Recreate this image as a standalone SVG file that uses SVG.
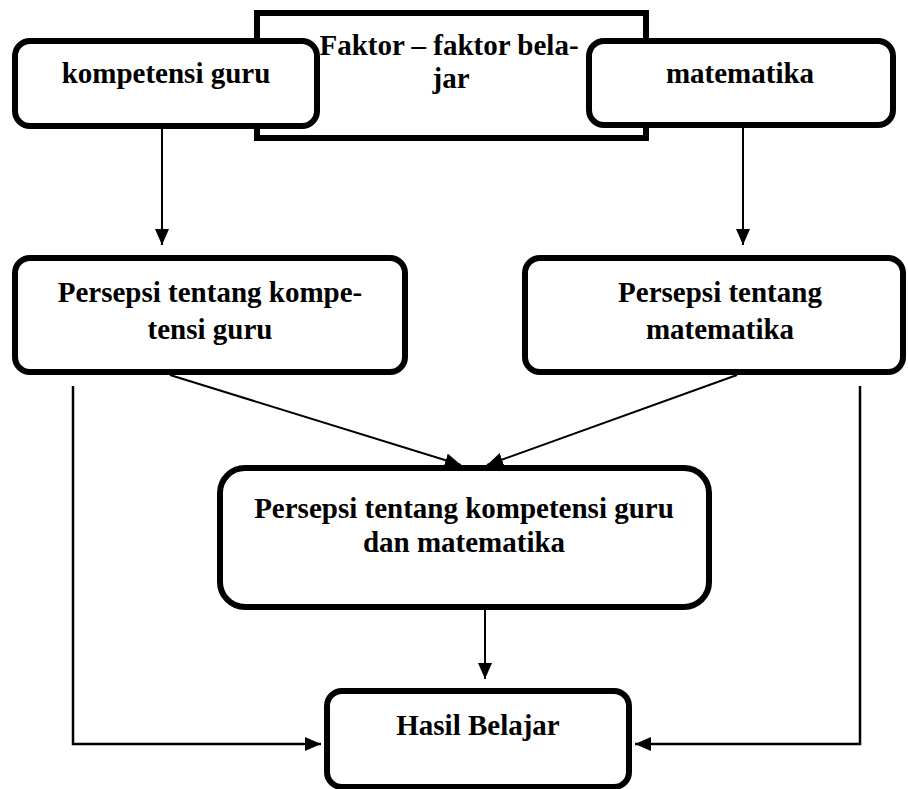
<svg xmlns="http://www.w3.org/2000/svg" width="908" height="789" viewBox="0 0 908 789">
<style>
.box{fill:#fff;stroke:#000;stroke-width:6}
.t{font-family:"Liberation Serif","Times New Roman",serif;font-weight:bold;font-size:29px;fill:#000;text-anchor:middle}
.c{stroke:#000;stroke-width:2;fill:none}
.c3{stroke:#000;stroke-width:2.5;fill:none}
</style>
<defs>
<marker id="ah" markerUnits="userSpaceOnUse" markerWidth="17" markerHeight="15" refX="16" refY="7" orient="auto">
<path d="M0,0 L16,7 L0,14 z" fill="#000"/>
</marker>
</defs>
<g id="faktor">
<rect class="box" x="257" y="13" width="389" height="125"/>
</g>
<g id="kompetensi">
<rect class="box" x="15" y="41" width="302" height="85" rx="15"/>
<text class="t" x="166" y="83">kompetensi guru</text>
</g>
<g id="matematika">
<rect class="box" x="589" y="41" width="304" height="84" rx="15"/>
<text class="t" x="740" y="83">matematika</text>
</g>
<g id="faktor-label">
<text class="t" x="449" y="55">Faktor – faktor bela-</text>
<text class="t" x="451" y="88">jar</text>
</g>
<g id="persepsi-kompetensi">
<rect class="box" x="15" y="258" width="390" height="114" rx="15"/>
<text class="t" x="210" y="302">Persepsi tentang kompe-</text>
<text class="t" x="210" y="339">tensi guru</text>
</g>
<g id="persepsi-matematika">
<rect class="box" x="525" y="258" width="378" height="114" rx="15"/>
<text class="t" x="720" y="302">Persepsi tentang</text>
<text class="t" x="720" y="339">matematika</text>
</g>
<g id="persepsi-gabungan">
<rect class="box" x="220" y="468" width="489" height="139" rx="25"/>
<text class="t" x="464" y="518">Persepsi tentang kompetensi guru</text>
<text class="t" x="464" y="552">dan matematika</text>
</g>
<g id="hasil">
<rect class="box" x="327" y="691" width="302" height="96" rx="15"/>
<text class="t" x="478" y="735">Hasil Belajar</text>
</g>
<g id="connectors">
<line class="c" x1="162" y1="129" x2="162" y2="245" marker-end="url(#ah)"/>
<line class="c" x1="743" y1="128" x2="743" y2="245" marker-end="url(#ah)"/>
<line class="c" x1="170" y1="375" x2="461" y2="465" marker-end="url(#ah)"/>
<line class="c" x1="737" y1="375" x2="487" y2="465" marker-end="url(#ah)"/>
<line class="c" x1="485" y1="610" x2="485" y2="679" marker-end="url(#ah)"/>
<polyline class="c3" points="73,386 73,744 321,744" marker-end="url(#ah)"/>
<polyline class="c3" points="860,386 860,744 635,744" marker-end="url(#ah)"/>
</g>
</svg>
